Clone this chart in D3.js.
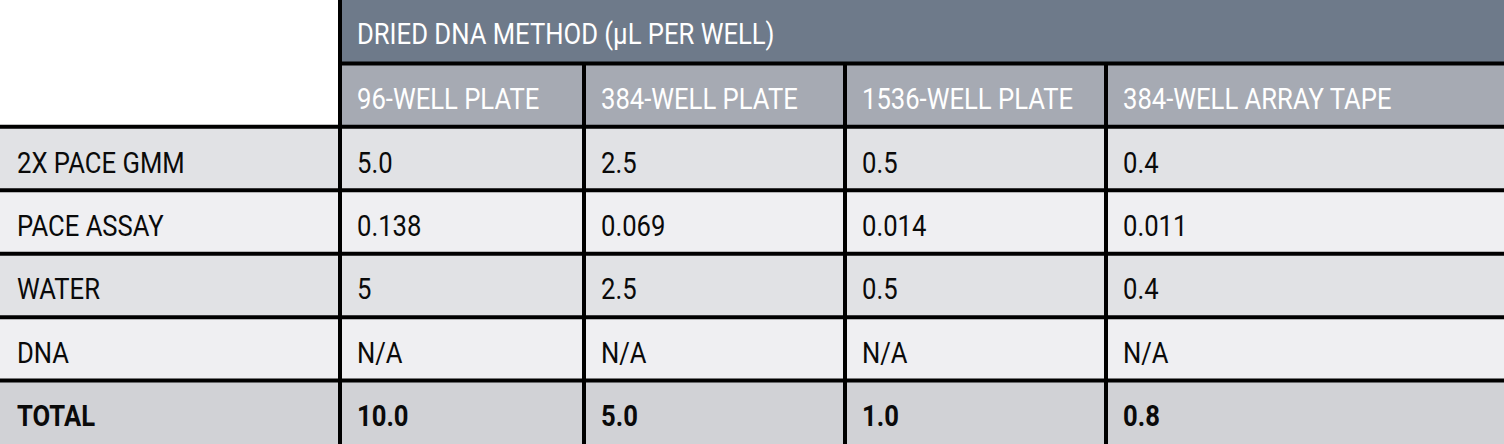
<!DOCTYPE html>
<html>
<head>
<meta charset="utf-8">
<script src="https://cdn.jsdelivr.net/npm/d3@7"></script>
<style>
  body { margin: 0; background: #fff; }
  text { font-family: Roboto, "Liberation Sans", sans-serif; }
</style>
</head>
<body>
<div class="canvas"></div>
<script>
// table content
const title = 'DRIED DNA METHOD (\u00B5L PER WELL)';
const columns = ['96-WELL PLATE', '384-WELL PLATE', '1536-WELL PLATE', '384-WELL ARRAY TAPE'];
const components = ['2X PACE GMM', 'PACE ASSAY', 'WATER', 'DNA', 'TOTAL'];
const plate96 = ['5.0', '0.138', '5', 'N/A', '10.0'];
const plate384 = ['2.5', '0.069', '2.5', 'N/A', '5.0'];
const plate1536 = ['0.5', '0.014', '0.5', 'N/A', '1.0'];
const arrayTape = ['0.4', '0.011', '0.4', 'N/A', '0.8'];
const values = [plate96, plate384, plate1536, arrayTape];

const width = 1504;
const height = 444;
const border = 4;
const pad = 17;
const fontSize = 30;
const baseline = 14;  // baseline offset below the middle of a row
const squeeze = 0.855; // narrow the glyphs a bit, the original face is condensed

const svg = d3.select('.canvas')
  .append('svg')
    .attr('width', width)
    .attr('height', height);

// x: first column for the labels, then the four plate columns
const colKeys = ['label', ...columns];
const colEdges = [0, 340, 584, 845, 1106, width];
const x = d3.scaleOrdinal().domain(colKeys).range(colEdges.slice(0, -1));
const w = d3.scaleOrdinal().domain(colKeys).range(d3.pairs(colEdges).map(([a, b]) => b - a));

// y: two header rows, then one row per component
const rowKeys = ['title', 'columns', ...components];
const y = d3.scaleBand().domain(rowKeys).range([0, height]);

const fills = ['#e1e2e5', '#efeff2', '#e1e2e5', '#efeff2', '#d1d2d6'];

// build cells
const cells = [];
components.forEach((c, i) => {
  cells.push({row: c, col: 'label', text: c, fill: fills[i], bold: c === 'TOTAL', color: '#0a0a0a'});
  columns.forEach((col, j) => {
    cells.push({row: c, col, text: values[j][i], fill: fills[i], bold: c === 'TOTAL', color: '#0a0a0a'});
  });
});
columns.forEach(col => {
  cells.push({row: 'columns', col, text: col, fill: '#a6aab3', color: '#fff'});
});

// title band spans the plate columns
svg.append('rect')
  .attr('x', x(columns[0]))
  .attr('y', y('title'))
  .attr('width', width - x(columns[0]))
  .attr('height', y.bandwidth())
  .attr('fill', '#6e7a8a');

svg.append('text')
  .attr('transform', `translate(${x(columns[0]) + pad}, ${y('title') + y.bandwidth() / 2 + baseline - 2}) scale(${squeeze},1)`)
  .attr('font-size', fontSize)
  .attr('font-weight', 400)
  .attr('fill', '#fff')
  .text(title);

const g = svg.selectAll('g.cell')
  .data(cells)
  .enter()
  .append('g')
    .attr('class', 'cell')
    .attr('transform', d => `translate(${x(d.col)}, ${y(d.row)})`);

g.append('rect')
  .attr('width', d => w(d.col))
  .attr('height', y.bandwidth())
  .attr('fill', d => d.fill);

g.append('text')
  .attr('transform', `translate(${pad}, ${y.bandwidth() / 2 + baseline}) scale(${squeeze},1)`)
  .attr('font-size', fontSize)
  .attr('font-weight', d => d.bold ? 700 : 400)
  .attr('fill', d => d.color)
  .text(d => d.text);

// grid lines
const lines = svg.append('g')
  .attr('stroke', '#000')
  .attr('stroke-width', border);

// horizontal: under the title band, then between body rows
lines.append('line')
  .attr('x1', x(columns[0])).attr('x2', width)
  .attr('y1', y('columns')).attr('y2', y('columns'));

lines.selectAll('line.h')
  .data(components)
  .enter()
  .append('line')
    .attr('class', 'h')
    .attr('x1', 0).attr('x2', width)
    .attr('y1', d => y(d)).attr('y2', d => y(d));

// vertical: full height after the label column, below the title for the rest
lines.append('line')
  .attr('x1', x(columns[0])).attr('x2', x(columns[0]))
  .attr('y1', 0).attr('y2', height);

lines.selectAll('line.v')
  .data(columns.slice(1))
  .enter()
  .append('line')
    .attr('class', 'v')
    .attr('x1', d => x(d)).attr('x2', d => x(d))
    .attr('y1', y('columns')).attr('y2', height);
</script>
</body>
</html>
